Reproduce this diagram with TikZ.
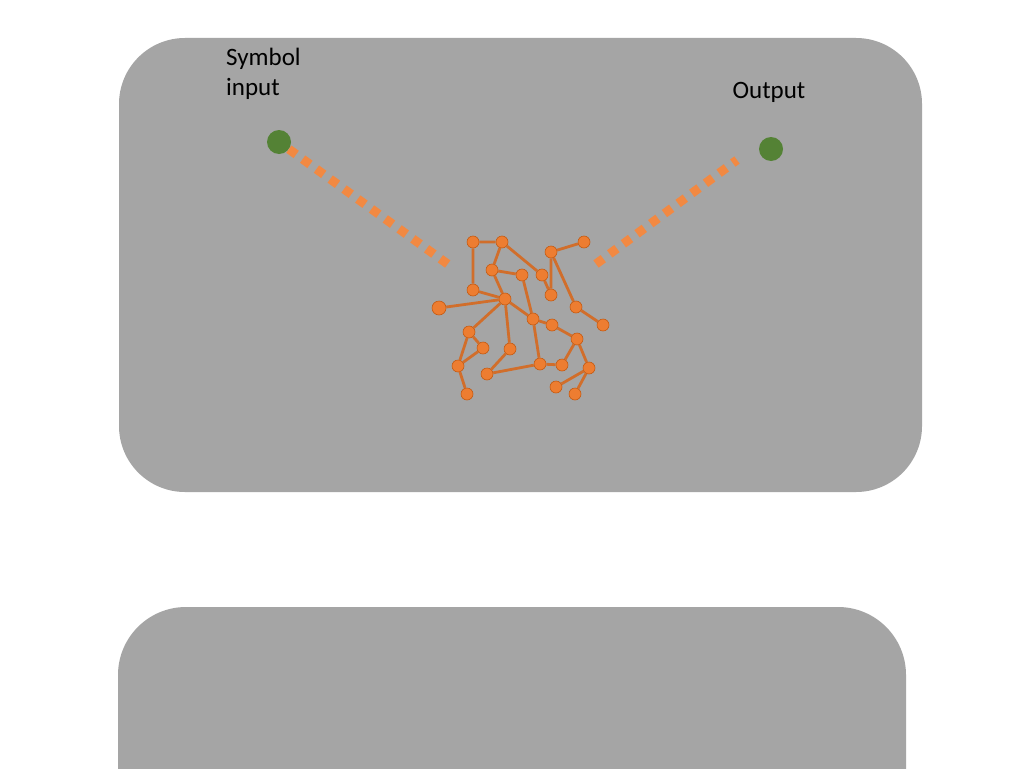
\documentclass[tikz,border=0pt]{standalone}
\usepackage{fontspec}
\setmainfont{Carlito}
\usepackage{tikz}
\usetikzlibrary{arrows,shapes}

\definecolor{panelgray}{RGB}{165,165,165}
\definecolor{dotgreen}{RGB}{84,130,53}
\definecolor{cellorange}{RGB}{237,125,49}
\definecolor{celledge}{RGB}{197,90,17}
\definecolor{feedorange}{RGB}{242,137,66}

\begin{document}
\begin{tikzpicture}[x=1pt,y=-1pt,
  cell/.style={circle, fill=cellorange, draw=celledge, line width=0.6pt,
    inner sep=0pt, minimum size=12pt},
  bigcell/.style={cell, minimum size=14pt},
  port/.style={circle, fill=dotgreen, inner sep=0pt, minimum size=24pt},
  link/.style={draw=cellorange!88!black, line width=2.8pt},
  feed/.style={draw=feedorange, line width=9pt, dash pattern=on 9pt off 8pt},
  caption/.style={font=\fontsize{25}{29}\selectfont, inner sep=0pt, align=left}]
\useasboundingbox (0,0) rectangle (1024,768);
\fill[white] (0,0) rectangle (1024,768);

% panels
\fill[panelgray, rounded corners=66pt] (119,38) rectangle (922,492);
\fill[panelgray, rounded corners=68pt] (118,607) rectangle (906,900);

% input and output
\node (indot) [port] at (279,142) {};
\node (outdot) [port] at (771,149) {};
\node (symlabel) [caption, anchor=base west] at (226,95) {Symbol\\input};
\node (outlabel) [caption, node distance=57pt, above of=outdot, xshift=-2pt] {Output};

% reservoir cells
\node (r1) [cell] at (473,242) {};
\node (r2) [cell] at (502,242) {};
\node (r3) [cell] at (584,242) {};
\node (r4) [cell] at (551,252) {};
\node (r5) [cell] at (492,270) {};
\node (r6) [cell] at (522,275) {};
\node (r7) [cell] at (542,275) {};
\node (r8) [cell] at (473,290) {};
\node (r9) [cell] at (551,295) {};
\node (r10) [cell] at (505,299) {};
\node (r11) [bigcell] at (439,308) {};
\node (r12) [cell] at (576,307) {};
\node (r13) [cell] at (603,325) {};
\node (r14) [cell] at (533,319) {};
\node (r15) [cell] at (552,325) {};
\node (r16) [cell] at (469,332) {};
\node (r17) [cell] at (577,339) {};
\node (r18) [cell] at (483,348) {};
\node (r19) [cell] at (510,349) {};
\node (r20) [cell] at (458,366) {};
\node (r21) [cell] at (540,364) {};
\node (r22) [cell] at (562,365) {};
\node (r23) [cell] at (589,368) {};
\node (r24) [cell] at (487,374) {};
\node (r25) [cell] at (556,387) {};
\node (r26) [cell] at (467,394) {};
\node (r27) [cell] at (575,394) {};

\coordinate (infeed) at (449,265);
\coordinate (outfeed) at (596,264);

\draw[feed] (indot) -- (infeed);
\draw[feed] (outfeed) -- (737,160);

\draw[link] (r8) -- (r1) -- (r2) -- (r5) -- (r6) -- (r14);
\draw[link] (r2) -- (r7) -- (r9) -- (r4) -- (r3);
\draw[link] (r4) -- (r12) -- (r13);
\draw[link] (r5) -- (r10);
\draw[link] (r8) -- (r10);
\draw[link] (r11) -- (r10) -- (r14) -- (r15) -- (r17) -- (r22) -- (r21);
\draw[link] (r10) -- (r16) -- (r20) -- (r26);
\draw[link] (r16) -- (r18) -- (r20);
\draw[link] (r10) -- (r19) -- (r24) -- (r21) -- (r14);
\draw[link] (r17) -- (r23) -- (r25);
\draw[link] (r23) -- (r27);
\end{tikzpicture}
\end{document}
